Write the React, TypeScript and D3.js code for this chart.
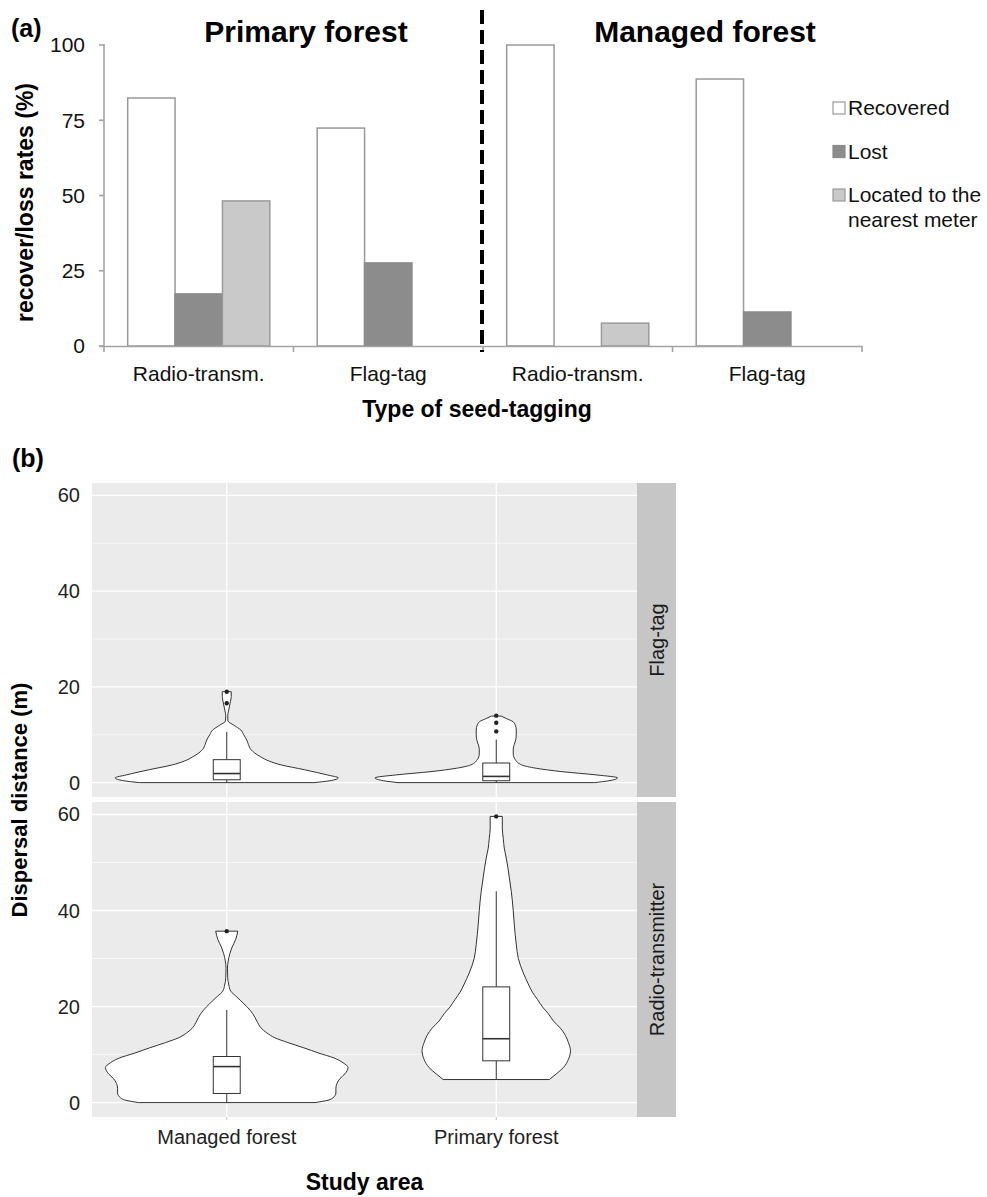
import React from "react";
import * as d3 from "d3";

const W = 987;
const H = 1197;
const FONT = "'Liberation Sans', Arial, Helvetica, sans-serif";

// ---------- Panel (a) data ----------
const groupKeys = ["P-Radio", "P-Flag", "M-Radio", "M-Flag"];
const tagLabels = ["Radio-transm.", "Flag-tag", "Radio-transm.", "Flag-tag"];
const forestTitles = ["Primary forest", "Managed forest"];
const seriesNames = ["Recovered", "Lost", "Located"];
const legendLabels = [["Recovered"], ["Lost"], ["Located to the", "nearest meter"]];
const recovered = [82.4, 72.4, 100, 88.7];
const lost = [17.3, 27.6, 0, 11.3];
const located = [48.2, 0, 7.6, 0];
const rateTicks = [0, 25, 50, 75, 100];
const seriesFill = ["#ffffff", "#8c8c8c", "#c9c9c9"];
const seriesStroke = ["#9a9a9a", "#8a8a8a", "#9a9a9a"];

// ---------- Panel (b) data ----------
const studyAreas = ["Managed forest", "Primary forest"];
const facets = ["Flag-tag", "Radio-transmitter"];
const distTicks = [0, 20, 40, 60];
const distMinorTicks = [10, 30, 50];

// violin profiles: [distance (m), relative density]
const violinFlagManaged: [number, number][] = [
  [0, 0.72], [0.4, 0.85], [1, 0.92], [1.6, 0.83], [2.7, 0.64], [3.7, 0.45], [4.5, 0.35],
  [5.4, 0.28], [6.2, 0.23], [6.9, 0.2], [8, 0.178], [8.9, 0.165], [10, 0.14], [11, 0.116],
  [12, 0.058], [12.9, 0.01], [14, 0.008], [15, 0.015], [16, 0.023], [17, 0.031], [18, 0.037], [19, 0.037],
];
const violinFlagPrimary: [number, number][] = [
  [0, 0.81], [0.4, 0.93], [1, 1], [1.6, 0.83], [2.3, 0.54], [3, 0.33], [3.7, 0.21], [4.8, 0.157],
  [6, 0.14], [7, 0.14], [8, 0.149], [9, 0.161], [10, 0.165], [11, 0.165], [12, 0.157],
  [12.7, 0.14], [13.4, 0.083], [13.9, 0.041],
];
const violinRadioManaged: [number, number][] = [
  [0, 0.727], [0.5, 0.835], [1, 0.876], [2, 0.9], [3, 0.9], [4, 0.909], [5, 0.934], [6, 0.975],
  [7.3, 1], [8.3, 0.959], [9.3, 0.884], [10.3, 0.76], [11.4, 0.636], [12.5, 0.504], [13.5, 0.397],
  [14.5, 0.331], [15.6, 0.281], [17, 0.248], [18.5, 0.215], [20, 0.165], [21.2, 0.116], [22.2, 0.074],
  [23.2, 0.033], [24.5, 0.017], [26, 0.008], [28, 0.006], [29.5, 0.012], [31, 0.025], [32.2, 0.041],
  [34, 0.074], [35.7, 0.091],
];
const violinRadioPrimary: [number, number][] = [
  [4.8, 0.438], [6, 0.496], [7.3, 0.554], [9, 0.595], [10.8, 0.612], [12.5, 0.595], [14, 0.57],
  [15.5, 0.529], [17, 0.471], [18.5, 0.43], [19.7, 0.388], [21.5, 0.339], [23, 0.298], [24.7, 0.264],
  [27, 0.223], [30, 0.182], [33, 0.165], [37, 0.149], [40, 0.14], [44, 0.124], [47, 0.107],
  [50.9, 0.083], [53, 0.066], [55, 0.058], [57, 0.05], [59.6, 0.05],
];

// box stats: [whiskerLow, q1, median, q3, whiskerHigh]
const boxFlagManaged = [0, 0.6, 1.9, 4.8, 10.6];
const boxFlagPrimary = [0, 0.4, 1.3, 4.1, 9];
const boxRadioManaged = [0, 1.9, 7.5, 9.6, 19.3];
const boxRadioPrimary = [4.8, 8.7, 13.3, 24.1, 44];
const outliersFlagManaged = [16.6, 19];
const outliersFlagPrimary = [10.7, 12.5, 14];
const outliersRadioManaged = [35.7];
const outliersRadioPrimary = [59.6];

const violinSets = [
  { facet: "Flag-tag", area: "Managed forest", profile: violinFlagManaged, box: boxFlagManaged, out: outliersFlagManaged },
  { facet: "Flag-tag", area: "Primary forest", profile: violinFlagPrimary, box: boxFlagPrimary, out: outliersFlagPrimary },
  { facet: "Radio-transmitter", area: "Managed forest", profile: violinRadioManaged, box: boxRadioManaged, out: outliersRadioManaged },
  { facet: "Radio-transmitter", area: "Primary forest", profile: violinRadioPrimary, box: boxRadioPrimary, out: outliersRadioPrimary },
];

export default function App() {
  // ----- (a) scales -----
  const aLeft = 104, aRight = 862, aTop = 45, aBottom = 346;
  const x0 = d3.scaleBand().domain(groupKeys).range([aLeft, aRight]).padding(0);
  const x1 = d3.scaleBand().domain(seriesNames).range([0, x0.bandwidth()]).paddingInner(0).paddingOuter(0.5);
  const yA = d3.scaleLinear().domain([0, 100]).range([aBottom, aTop]);
  const seriesVals = [recovered, lost, located];
  const boundaries = [...groupKeys.map((g) => x0(g)!), aRight];
  const dividerX = x0("M-Radio")! - 1;

  // ----- (b) scales -----
  const pLeft = 92, pRight = 637, stripRight = 676;
  const panels = [
    { facet: facets[0], top: 483, bottom: 797 },
    { facet: facets[1], top: 802, bottom: 1117 },
  ];
  const xB = d3.scalePoint().domain(studyAreas).range([pLeft, pRight - 6]).padding(0.5);
  const halfW = 0.45 * xB.step();
  const boxHalf = 0.05 * xB.step();
  const yDom = [-3, 62.6];

  return (
    <svg width={W} height={H} style={{ position: "absolute", left: 0, top: 0, background: "#fff" }} fontFamily={FONT}>
      {/* ================= Panel (a) ================= */}
      <text x={11} y={37} fontSize={25} fontWeight="bold">(a)</text>
      <text x={306} y={42} fontSize={30} fontWeight="bold" textAnchor="middle">{forestTitles[0]}</text>
      <text x={705} y={42} fontSize={30} fontWeight="bold" textAnchor="middle">{forestTitles[1]}</text>

      {/* bars */}
      {groupKeys.map((g, gi) =>
        seriesNames.map((s, si) => {
          const v = seriesVals[si][gi];
          if (!v) return null;
          return (
            <rect key={g + s} x={x0(g)! + x1(s)!} y={yA(v)} width={x1.bandwidth()} height={yA(0) - yA(v)}
              fill={seriesFill[si]} stroke={seriesStroke[si]} strokeWidth={1.5} />
          );
        })
      )}

      {/* axes */}
      <line x1={aLeft} x2={aLeft} y1={yA(100) - 1} y2={yA(0)} stroke="#a3a3a3" strokeWidth={1.6} />
      <line x1={aLeft - 5} x2={aRight} y1={yA(0) + 0.5} y2={yA(0) + 0.5} stroke="#a3a3a3" strokeWidth={1.6} />
      {rateTicks.map((t) => (
        <g key={t}>
          <line x1={aLeft - 5} x2={aLeft} y1={yA(t)} y2={yA(t)} stroke="#a3a3a3" strokeWidth={1.6} />
          <text x={85} y={yA(t)} dy="0.35em" fontSize={21} textAnchor="end" fill="#111">{t}</text>
        </g>
      ))}
      {boundaries.map((b, i) => (
        <line key={i} x1={b} x2={b} y1={yA(0)} y2={yA(0) + 6} stroke="#a3a3a3" strokeWidth={1.6} />
      ))}
      {groupKeys.map((g, i) => (
        <text key={g} x={x0(g)! + x0.bandwidth() / 2} y={381} fontSize={21} textAnchor="middle" fill="#111">{tagLabels[i]}</text>
      ))}
      <text x={(aLeft + aRight) / 2 - 6} y={417} fontSize={23} fontWeight="bold" textAnchor="middle">Type of seed-tagging</text>
      <text transform={`translate(33,${(aTop + aBottom) / 2 + 7}) rotate(-90)`} fontSize={23} fontWeight="bold" textAnchor="middle">recover/loss rates (%)</text>

      {/* divider */}
      <line x1={dividerX} x2={dividerX} y1={10} y2={352} stroke="#000" strokeWidth={4} strokeDasharray="14 6" />

      {/* legend */}
      {legendLabels.map((lab, i) => {
        const cy = 108 + i * 43.5;
        return (
          <g key={i}>
            <rect x={833} y={cy - 6} width={12} height={12} fill={seriesFill[i]} stroke={seriesStroke[i]} strokeWidth={1.2} />
            {lab.map((l, j) => (
              <text key={j} x={848} y={cy + j * 25} dy="0.35em" fontSize={21} fill="#111">{l}</text>
            ))}
          </g>
        );
      })}

      {/* ================= Panel (b) ================= */}
      <text x={12} y={467} fontSize={25} fontWeight="bold">(b)</text>

      {panels.map((p) => {
        const y = d3.scaleLinear().domain(yDom).range([p.bottom, p.top]);
        const area = d3
          .area<[number, number]>()
          .y((d) => y(d[0]))
          .curve(d3.curveMonotoneY);
        return (
          <g key={p.facet}>
            <rect x={pLeft} y={p.top} width={pRight - pLeft} height={p.bottom - p.top} fill="#ebebeb" />
            {distMinorTicks.map((t) => (
              <line key={"m" + t} x1={pLeft} x2={pRight} y1={y(t)} y2={y(t)} stroke="#fff" strokeWidth={0.6} />
            ))}
            {distTicks.map((t) => (
              <line key={"M" + t} x1={pLeft} x2={pRight} y1={y(t)} y2={y(t)} stroke="#fff" strokeWidth={1.3} />
            ))}
            {studyAreas.map((a) => (
              <line key={a} x1={xB(a)} x2={xB(a)} y1={p.top} y2={p.bottom} stroke="#fff" strokeWidth={1.3} />
            ))}
            {distTicks.map((t) => (
              <text key={"t" + t} x={80} y={y(t)} dy="0.35em" fontSize={20} textAnchor="end" fill="#222">{t}</text>
            ))}
            {/* strip */}
            <rect x={pRight} y={p.top} width={stripRight - pRight} height={p.bottom - p.top} fill="#c6c6c6" />
            <text transform={`translate(${(pRight + stripRight) / 2 + 7},${(p.top + p.bottom) / 2}) rotate(-90)`}
              fontSize={20} textAnchor="middle" fill="#1a1a1a">{p.facet}</text>

            {violinSets.filter((v) => v.facet === p.facet).map((v) => {
              const cx = xB(v.area)!;
              const path = area
                .x0((d) => cx - d[1] * halfW)
                .x1((d) => cx + d[1] * halfW)(v.profile);
              const [wl, q1, med, q3, wh] = v.box;
              return (
                <g key={v.area}>
                  <path d={path || ""} fill="#fff" stroke="#333" strokeWidth={1} />
                  <line x1={cx} x2={cx} y1={y(q3)} y2={y(wh)} stroke="#333" strokeWidth={1} />
                  <line x1={cx} x2={cx} y1={y(q1)} y2={y(wl)} stroke="#333" strokeWidth={1} />
                  <rect x={cx - boxHalf} y={y(q3)} width={boxHalf * 2} height={y(q1) - y(q3)} fill="#fff" stroke="#333" strokeWidth={1} />
                  <line x1={cx - boxHalf} x2={cx + boxHalf} y1={y(med)} y2={y(med)} stroke="#333" strokeWidth={1.6} />
                  {v.out.map((o, k) => (
                    <circle key={k} cx={cx} cy={y(o)} r={2.2} fill="#222" />
                  ))}
                </g>
              );
            })}
          </g>
        );
      })}

      {/* bottom x axis */}
      {studyAreas.map((a) => (
        <g key={a}>
          <line x1={xB(a)} x2={xB(a)} y1={1117} y2={1120} stroke="#bbb" strokeWidth={1} />
          <text x={xB(a)} y={1144} fontSize={20} textAnchor="middle" fill="#222">{a}</text>
        </g>
      ))}
      <text x={(pLeft + pRight) / 2} y={1190} fontSize={23} fontWeight="bold" textAnchor="middle">Study area</text>
      <text transform={`translate(27,800) rotate(-90)`} fontSize={22} fontWeight="bold" textAnchor="middle">Dispersal distance (m)</text>
    </svg>
  );
}
